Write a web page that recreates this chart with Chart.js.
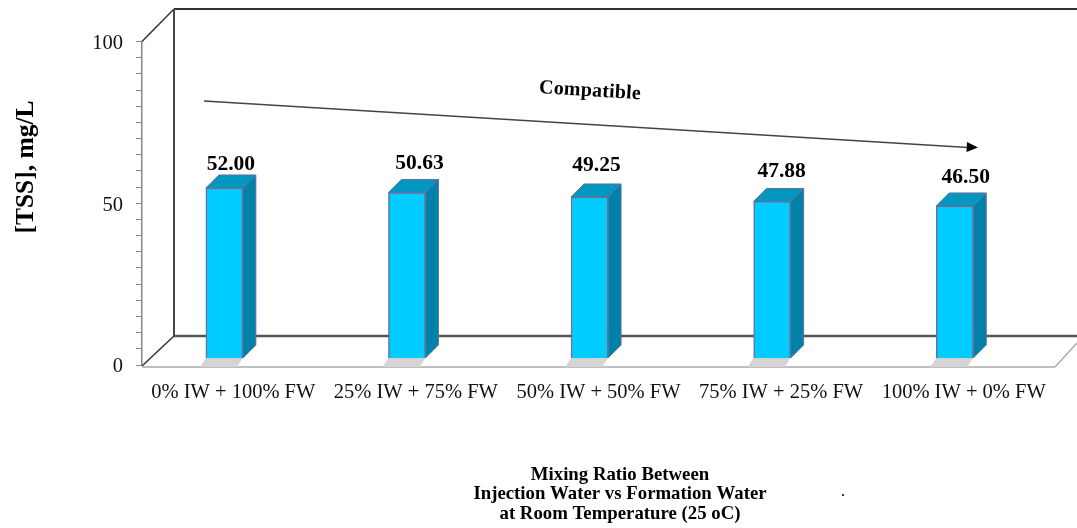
<!DOCTYPE html>
<html>
<head>
<meta charset="utf-8">
<style>
  html, body { margin: 0; padding: 0; background: #fff; }
  canvas { display: block; }
</style>
<script src="https://cdn.jsdelivr.net/npm/chart.js@4/dist/chart.umd.min.js"></script>
</head>
<body>
<canvas id="tssChart" width="1077" height="528"></canvas>
<script>
const categories = ["0% IW + 100% FW", "25% IW + 75% FW", "50% IW + 50% FW", "75% IW + 25% FW", "100% IW + 0% FW"];
const tssValues = [52.00, 50.63, 49.25, 47.88, 46.50];
const xTitleLines = ["Mixing Ratio Between", "Injection Water vs Formation Water", "at Room Temperature (25 oC)"];

// the value labels were placed by hand in the original
const labelShiftX = [6.5, 12.5, 7, 9.5, 11];
const labelLift = [24, 29, 32, 30, 29];

const SERIF = '"Liberation Serif", serif';
const DEPTH = 13;
const RIGHT_EDGE = 1077;

function poly(ctx, pts, fill, stroke) {
    ctx.beginPath();
    pts.forEach((p, i) => i ? ctx.lineTo(p[0], p[1]) : ctx.moveTo(p[0], p[1]));
    ctx.closePath();
    if (fill) { ctx.fillStyle = fill; ctx.fill(); }
    if (stroke) { ctx.strokeStyle = stroke; ctx.lineWidth = 1; ctx.stroke(); }
}

function line(ctx, x1, y1, x2, y2, color, width) {
    ctx.beginPath();
    ctx.moveTo(x1, y1);
    ctx.lineTo(x2, y2);
    ctx.strokeStyle = color;
    ctx.lineWidth = width;
    ctx.stroke();
}

// walls and floor of the 3D box
const boxPlugin = {
    id: "box",
    beforeDatasetsDraw(chart) {
        const { ctx, chartArea: a } = chart;
        const backX = a.left + 32, backTop = 9, backBottom = 336;
        ctx.save();
        line(ctx, a.left, a.top, backX, backTop, "#333", 1.5);
        line(ctx, backX, backTop, RIGHT_EDGE, backTop, "#333", 2);
        line(ctx, backX, backTop, backX, backBottom, "#444", 2);
        line(ctx, backX, backBottom, RIGHT_EDGE, backBottom, "#555", 2.5);
        line(ctx, a.left, a.bottom + 1, backX, backBottom, "#333", 1.5);
        line(ctx, a.left, a.bottom + 2, a.right, a.bottom + 2, "#aaa", 1.5);
        line(ctx, a.right, a.bottom + 2, RIGHT_EDGE, 343, "#aaa", 1.5);

        // shadow, top and side of each bar, the front face comes from the library
        chart.getDatasetMeta(0).data.forEach((bar) => {
            const l = bar.x - bar.width / 2, r = bar.x + bar.width / 2;
            poly(ctx, [[l, bar.base], [r, bar.base], [r - 6, a.bottom + 2], [l - 6, a.bottom + 2]], "#d4d4d4");
            poly(ctx, [[r, bar.y], [r + DEPTH, bar.y - DEPTH], [r + DEPTH, bar.base - DEPTH], [r, bar.base]], "#0082A8", "#66709F");
            poly(ctx, [[l, bar.y], [l + DEPTH, bar.y - DEPTH], [r + DEPTH, bar.y - DEPTH], [r, bar.y]], "#0098C0", "#66709F");
        });
        ctx.restore();
    },
    afterDraw(chart) {
        const { ctx } = chart;
        ctx.save();
        ctx.fillStyle = "#000";
        ctx.textAlign = "center";
        ctx.textBaseline = "middle";

        ctx.font = "bold 21.5px " + SERIF;
        chart.getDatasetMeta(0).data.forEach((bar, i) => {
            ctx.fillText(tssValues[i].toFixed(2), bar.x + labelShiftX[i], bar.y - labelLift[i]);
        });

        // trend arrow
        line(ctx, 204, 101, 968, 147.5, "#444", 1.5);
        poly(ctx, [[978, 147.5], [967, 142], [966.5, 152]], "#000");

        ctx.save();
        ctx.translate(590, 91);
        ctx.rotate(3.5 * Math.PI / 180);
        ctx.font = "bold 20px " + SERIF;
        ctx.letterSpacing = "0.2px";
        ctx.fillText("Compatible", 0, 0);
        ctx.restore();

        ctx.save();
        ctx.translate(26, 167);
        ctx.rotate(-Math.PI / 2);
        ctx.font = "bold 25.5px " + SERIF;
        ctx.fillText("[TSS], mg/L", 0, 0);
        ctx.restore();

        ctx.font = "bold 18.8px " + SERIF;
        xTitleLines.forEach((t, i) => ctx.fillText(t, 620, 475 + i * 19.5));
        ctx.font = "bold 12px " + SERIF;
        ctx.fillText(".", 843, 493);
        ctx.restore();
    }
};

new Chart(document.getElementById("tssChart"), {
    type: "bar",
    data: {
        labels: categories,
        datasets: [{
            data: tssValues.map((v, i) => ({ x: i, y: v })),
            xAxisID: "xBar",
            yAxisID: "yBar",
            backgroundColor: "#00CCFF",
            borderColor: "#66709F",
            borderWidth: 1.5,
            barThickness: 37
        }]
    },
    options: {
        responsive: false,
        animation: false,
        layout: { padding: { top: 41.5, right: 22, left: 0, bottom: 0 } },
        plugins: { legend: { display: false }, tooltip: { enabled: false } },
        scales: {
            x: {
                type: "category",
                position: "bottom",
                grid: { display: false },
                border: { display: false },
                ticks: {
                    color: "#111",
                    autoSkip: false,
                    maxRotation: 0,
                    padding: 7,
                    font: { family: SERIF, size: 20.5 }
                },
                afterFit(scale) { scale.height = 163; }
            },
            y: {
                position: "left",
                min: 0,
                max: 100,
                border: { color: "#888", width: 1.5 },
                grid: { drawOnChartArea: false, drawTicks: true, tickLength: 6, color: "#888" },
                ticks: {
                    stepSize: 5,
                    autoSkip: false,
                    padding: 13,
                    labelOffset: 2,
                    color: "#111",
                    font: { family: SERIF, size: 20.5 },
                    callback: (v) => (v % 50 === 0 ? v : "")
                },
                afterFit(scale) { scale.width = 142; }
            },
            // bars stand a little inside the box, so they get their own hidden scales
            xBar: { type: "linear", display: false, offset: false, min: -0.451, max: 4.549 },
            yBar: { type: "linear", display: false, min: -2.14, max: 96.8 }
        }
    },
    plugins: [boxPlugin]
});
</script>
</body>
</html>
